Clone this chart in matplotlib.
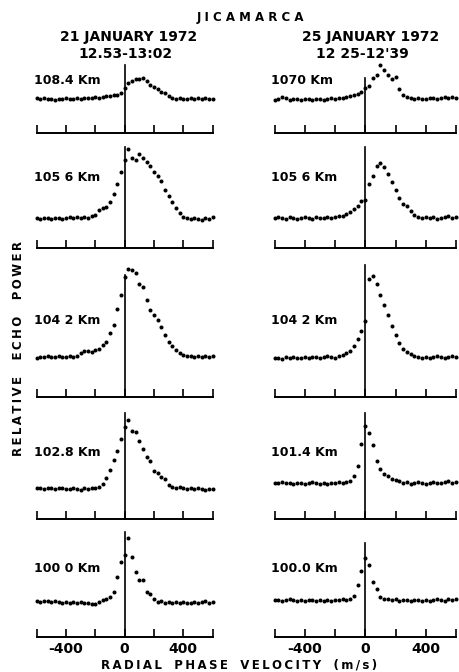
import numpy as np
import matplotlib
matplotlib.use("Agg")
import matplotlib.pyplot as plt

plt.rcParams['font.family'] = ['DejaVu Sans']

# ---------------- data ----------------
velocity = np.arange(-600, 601, 25)  # radial phase velocity bins (m/s)

left_labels = ['108.4 Km', '105 6 Km', '104 2 Km', '102.8 Km', '100 0 Km']
right_labels = ['1070 Km', '105 6 Km', '104 2 Km', '101.4 Km', '100.0 Km']

# relative echo power (arbitrary units), 21 January 1972
jan21_1084 = [35, 34, 35, 34, 34, 33, 34, 34, 35, 34, 34, 35, 34, 35, 35, 35, 36, 35, 36, 37, 37,
              38, 38, 40, 45, 50, 52, 54, 54, 55, 52, 48, 46, 44, 41, 40, 37, 35, 34, 35, 34, 34,
              35, 34, 35, 34, 35, 34, 34]
jan21_1056 = [30, 29, 30, 30, 29, 30, 30, 29, 30, 31, 30, 31, 30, 31, 30, 32,
              33, 38, 40, 41, 46, 54, 64, 76, 88, 99, 90, 88, 94, 90, 86, 82, 76, 72, 67, 58,
              52, 46, 40, 35, 31, 30, 29, 30, 29, 28, 30, 29, 31]
jan21_1042 = [39, 40, 40, 41, 40, 40, 41, 40, 40, 41, 40, 41,
              44, 46, 46, 45, 47, 48, 52, 55, 64, 72, 88, 102, 120, 128, 127, 124, 113, 110, 97,
              87, 82, 77, 70, 62, 55, 51, 47, 44, 42, 41, 41, 40, 41, 40, 41, 40, 41]
jan21_1028 = [31, 31, 30, 31, 31, 30, 31, 31, 30, 30, 31, 30, 29, 31, 30, 31, 31, 32,
              35, 41, 49, 59, 68, 80, 92, 99, 88, 87, 78, 70, 62, 58, 48, 46, 42, 40, 34, 32,
              31, 32, 31, 30, 31, 30, 31, 30, 29, 30, 30]
jan21_1000 = [36, 35, 36, 36, 35, 36, 35, 34, 35, 34, 35, 34, 35, 34, 34, 33, 33,
              35, 37, 38, 40, 45, 60, 75, 82, 99, 80, 65, 57, 57, 45, 43, 38, 35, 36, 34, 35,
              34, 35, 34, 35, 34, 34, 35, 34, 35, 36, 34, 35]

# relative echo power (arbitrary units), 25 January 1972
jan25_1070 = [33, 34, 36, 35, 33, 34, 34, 33, 34, 34, 33, 34, 34, 33, 34, 35, 34, 35, 35, 36,
              37, 38, 39, 41, 45, 47, 55, 58, 68, 63, 58, 54, 56, 44, 38, 36, 35, 34, 35, 34,
              34, 35, 35, 34, 35, 36, 35, 36, 35]
jan25_1056 = [30, 31, 30, 29, 31, 30, 29, 30, 31, 30, 29, 31, 30, 30, 31, 30, 31, 32, 32,
              34, 36, 39, 42, 47, 48, 64, 72, 82, 85, 81, 74, 66, 58, 50, 44, 42, 37, 33, 31,
              30, 31, 30, 31, 29, 30, 31, 32, 30, 31]
jan25_1042 = [39, 39, 38, 40, 39, 40, 39, 39, 40, 39, 40, 40, 39, 40, 41, 40, 39, 41,
              42, 44, 46, 51, 58, 66, 76, 118, 121, 113, 102, 92, 82, 71, 62, 54, 48, 45, 43,
              41, 40, 39, 40, 39, 40, 41, 40, 39, 40, 41, 40]
jan25_1014 = [36, 36, 37, 36, 36, 35, 36, 36, 35, 36, 37, 36, 35, 36, 35, 36, 36, 37, 36, 37,
              38, 43, 53, 75, 93, 86, 74, 58, 50, 45, 43, 40, 39, 38, 36, 37, 35, 36, 37, 36,
              35, 36, 37, 36, 36, 37, 38, 36, 37]
jan25_1000 = [37, 37, 36, 37, 38, 37, 36, 37, 36, 37, 37, 36, 37, 36, 37, 36, 37, 37, 38, 37, 38,
              41, 52, 66, 79, 72, 55, 48, 40, 38, 38, 37, 38, 36, 37, 37, 36, 37, 37, 36, 37,
              36, 37, 38, 37, 36, 38, 37, 38]

left_series = [jan21_1084, jan21_1056, jan21_1042, jan21_1028, jan21_1000]
right_series = [jan25_1070, jan25_1056, jan25_1042, jan25_1014, jan25_1000]

# heights of the zero-velocity reference line (same units)
left_zero_tops = [68, 101, 122, 106, 105]
right_zero_tops = [55, 101, 132, 106, 94]

# ---------------- layout ----------------
W, H = 459, 672
fig = plt.figure(figsize=(W / 100, H / 100), dpi=100)


def fx(px):
    return px / W


def fy(py):
    return 1 - py / H


axis_y = [133, 248, 397, 519, 637]
label_y = [80, 177, 320, 453, 568]
panel_h = 150
cols = [(36.5, 212.5, left_series, left_labels, left_zero_tops, 34),
        (274.5, 456.0, right_series, right_labels, right_zero_tops, 271)]

bold = dict(fontweight='bold', family='DejaVu Sans', color='black')

for (x0, x1, series, labels, tops, lx) in cols:
    for i in range(5):
        ax = fig.add_axes([fx(x0), fy(axis_y[i]), fx(x1) - fx(x0), panel_h / H])
        ax.patch.set_visible(False)
        ax.set_xlim(-600, 600)
        ax.set_ylim(0, panel_h)
        for s in ['left', 'right', 'top']:
            ax.spines[s].set_visible(False)
        ax.spines['bottom'].set_linewidth(1.4)
        ax.set_yticks([])
        ax.set_xticks(np.arange(-600, 601, 200))
        ax.tick_params(axis='x', direction='in', length=5.5, width=1.2, pad=3.5)
        if i == 4:
            ax.set_xticklabels(['', '-400', '', '0', '', '400', ''],
                               fontsize=10, fontweight='bold')
        else:
            ax.tick_params(axis='x', labelbottom=False)
        ax.plot([0, 0], [0, tops[i]], color='black', lw=1.2, clip_on=False)
        ax.plot(velocity, series[i], 'o', ms=2.9, color='black', mew=0, clip_on=False)
        fig.text(fx(lx), fy(label_y[i]), labels[i], ha='left', va='center',
                 fontsize=9, **bold)

# titles
fig.text(fx(250), fy(17.5), 'J I C A M A R C A', ha='center', va='center',
         fontsize=8.5, **bold)
fig.text(fx(128.5), fy(37), '21 JANUARY 1972', ha='center', va='center', fontsize=10, **bold)
fig.text(fx(125), fy(54), '12.53-13:02', ha='center', va='center', fontsize=10, **bold)
fig.text(fx(370.5), fy(37), '25 JANUARY 1972', ha='center', va='center', fontsize=10, **bold)
fig.text(fx(362.5), fy(54), "12 25-12'39", ha='center', va='center', fontsize=10, **bold)

ts = '\u2009'
xlabel = '   '.join(ts.join(w) for w in ['RADIAL', 'PHASE', 'VELOCITY', '(m/s)'])
fig.text(fx(239.5), fy(665), xlabel, ha='center', va='center', fontsize=8.5, **bold)
ylabel = '    '.join(ts.join(w) for w in ['RELATIVE', 'ECHO', 'POWER'])
fig.text(fx(19), fy(348), ylabel, ha='center', va='center', rotation=90,
         fontsize=8.5, **bold)

fig.savefig('out.png', dpi=100)
